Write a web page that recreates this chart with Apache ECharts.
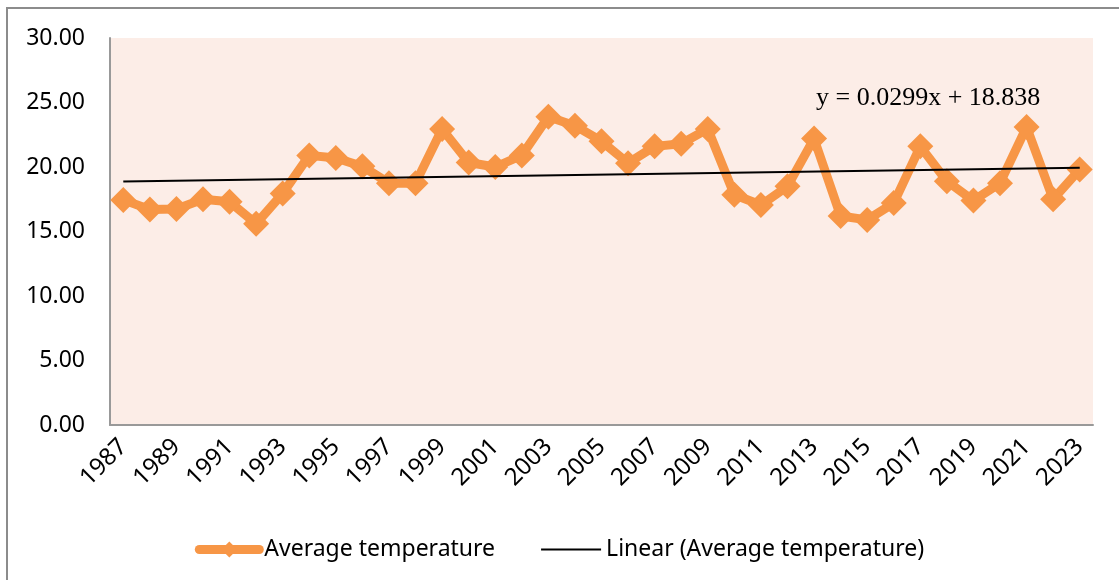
<!DOCTYPE html>
<html>
<head>
<meta charset="utf-8">
<script src="https://cdn.jsdelivr.net/npm/echarts@6/dist/echarts.min.js"></script>
<style>
  html, body { margin: 0; padding: 0; background: #fff; }
  #chart { width: 1119px; height: 580px; }
</style>
</head>
<body>
<div id="chart"></div>
<script>
// years on the category axis
var years = [];
for (var y = 1987; y <= 2023; y++) years.push(String(y));

// average temperature
var avgTemp = [
  17.45, 16.7, 16.75, 17.5, 17.3, 15.6, 17.95, 20.9, 20.7, 20.05,
  18.75, 18.75, 22.95, 20.35, 20.0, 20.9, 23.9, 23.2, 22.0, 20.3,
  21.6, 21.8, 22.95, 17.85, 17.05, 18.5, 22.2, 16.2, 15.9, 17.2,
  21.6, 18.9, 17.4, 18.75, 23.1, 17.5, 19.8
];

// trend line end points (first and last year)
var trendEnds = [18.87, 19.94];
var trendLabel = 'y = 0.0299x + 18.838';

var trend = avgTemp.map(function () { return null; });
trend[0] = trendEnds[0];
trend[trend.length - 1] = trendEnds[1];

var chart = echarts.init(document.getElementById('chart'));

var option = {
  animation: false,
  grid: {
    left: 110,
    right: 26,
    top: 38,
    bottom: 155,
    show: true,
    backgroundColor: '#fcede7',
    borderWidth: 0
  },
  graphic: [
    {
      type: 'polyline',
      shape: { points: [[7, 580], [7, 8], [1119, 8]] },
      style: { stroke: '#8c8c8c', lineWidth: 2, fill: null },
      silent: true
    },
    {
      type: 'text',
      left: 816,
      top: 85,
      style: {
        text: trendLabel,
        font: '26px "Liberation Serif", "DejaVu Serif", serif',
        fill: '#000'
      }
    }
  ],
  xAxis: {
    type: 'category',
    data: years,
    boundaryGap: true,
    axisLine: { show: true, lineStyle: { color: '#999', width: 2 } },
    axisTick: { show: false },
    axisLabel: {
      interval: 1,
      rotate: 45,
      margin: 18,
      color: '#000',
      fontSize: 24,
      fontFamily: '"Noto Sans", sans-serif'
    }
  },
  yAxis: {
    type: 'value',
    min: 0,
    max: 30,
    interval: 5,
    axisLine: { show: true, lineStyle: { color: '#999', width: 2 } },
    axisTick: { show: false },
    splitLine: { show: false },
    axisLabel: {
      margin: 25,
      color: '#000',
      fontSize: 23,
      fontFamily: '"Noto Sans", sans-serif',
      formatter: function (v) { return v.toFixed(2); }
    }
  },
  legend: {
    bottom: 14,
    left: 'center',
    itemWidth: 60,
    itemHeight: 20,
    itemGap: 45,
    textStyle: {
      color: '#000',
      fontSize: 23,
      fontFamily: '"Noto Sans", sans-serif'
    },
    data: [
      {
        name: 'Average temperature',
        lineStyle: { width: 9, cap: 'round' },
        itemStyle: { color: '#f79646' }
      },
      {
        name: 'Linear (Average temperature)',
        lineStyle: { width: 2 },
        itemStyle: { opacity: 0 }
      }
    ]
  },
  series: [
    {
      name: 'Average temperature',
      type: 'line',
      data: avgTemp,
      symbol: 'diamond',
      symbolSize: 26,
      showAllSymbol: true,
      lineStyle: { color: '#f79646', width: 9 },
      itemStyle: { color: '#f79646' },
      z: 2
    },
    {
      name: 'Linear (Average temperature)',
      type: 'line',
      data: trend,
      connectNulls: true,
      symbol: 'none',
      lineStyle: { color: '#000', width: 2 },
      itemStyle: { color: '#000' },
      z: 3
    }
  ]
};

chart.setOption(option);
</script>
</body>
</html>
